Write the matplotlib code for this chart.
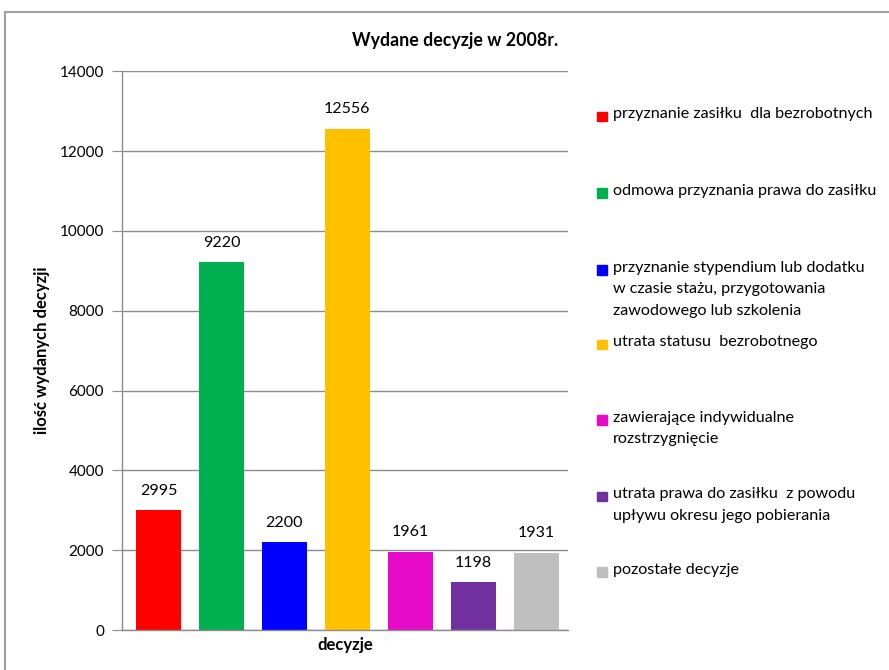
import matplotlib
matplotlib.use("Agg")
import matplotlib.pyplot as plt
from matplotlib.patches import Rectangle

plt.rcParams["font.family"] = ["Lato", "DejaVu Sans"]

categories = [
    "przyznanie zasiłku  dla bezrobotnych",
    "odmowa przyznania prawa do zasiłku",
    "przyznanie stypendium lub dodatku\nw czasie stażu, przygotowania\nzawodowego lub szkolenia",
    "utrata statusu  bezrobotnego",
    "zawierające indywidualne\nrozstrzygnięcie",
    "utrata prawa do zasiłku  z powodu\nupływu okresu jego pobierania",
    "pozostałe decyzje",
]
values = [2995, 9220, 2200, 12556, 1961, 1198, 1931]
colors = ["#FF0000", "#00B050", "#0000FF", "#FFC000", "#E60BC8", "#7030A0", "#BFBFBF"]
yticks = [0, 2000, 4000, 6000, 8000, 10000, 12000, 14000]

# legend rows: top of each entry in figure fraction
legend_y = [0.840, 0.726, 0.611, 0.500, 0.387, 0.273, 0.160]

fig = plt.figure(figsize=(8.89, 6.70), dpi=100)
ax = fig.add_axes([0.1372, 0.0597, 0.502, 0.834])

x = range(len(values))
bars = ax.bar(x, values, width=0.713, color=colors)
for b, v in zip(bars, values):
    ax.annotate(str(v), (b.get_x() + b.get_width() / 2, v), xytext=(0, 9),
                textcoords="offset points", ha="center", va="bottom", fontsize=11.5)

ax.set_ylim(0, 14000)
ax.set_xlim(-0.58, len(values) - 0.49)
ax.set_yticks(yticks)
ax.set_yticklabels([str(t) for t in yticks], fontsize=11)
ax.set_xticks([])
ax.yaxis.grid(True, color="#8C8C8C", lw=1)
ax.set_axisbelow(True)
for s in ["top", "right"]:
    ax.spines[s].set_visible(False)
for s in ["left", "bottom"]:
    ax.spines[s].set_color("#8C8C8C")
    ax.spines[s].set_linewidth(1)
ax.tick_params(axis="y", direction="out", length=7, color="#8C8C8C", pad=6)

ax.set_ylabel("ilość wydanych decyzji", fontsize=12, fontweight="bold", labelpad=7)
ax.set_xlabel("decyzje", fontsize=12, fontweight="bold", labelpad=5)
fig.text(0.512, 0.94, "Wydane decyzje w 2008r.", ha="center", va="center",
         fontsize=12.8, fontweight="bold")

# legend drawn by hand, handle aligned with the first text line
for lab, col, yy in zip(categories, colors, legend_y):
    fig.patches.append(Rectangle((0.672, yy - 0.021), 0.0105, 0.014, color=col,
                                 transform=fig.transFigure, figure=fig))
    fig.text(0.689, yy, lab, ha="left", va="top", fontsize=11.6, linespacing=1.68)

# outer chart frame
fig.patches.append(Rectangle((0.006, -0.05), 1.1, 0.05 + (670 - 12) / 670, fill=False,
                             edgecolor="#A0A0A0", lw=1.5, transform=fig.transFigure,
                             figure=fig))

fig.savefig("out.png", dpi=100)
